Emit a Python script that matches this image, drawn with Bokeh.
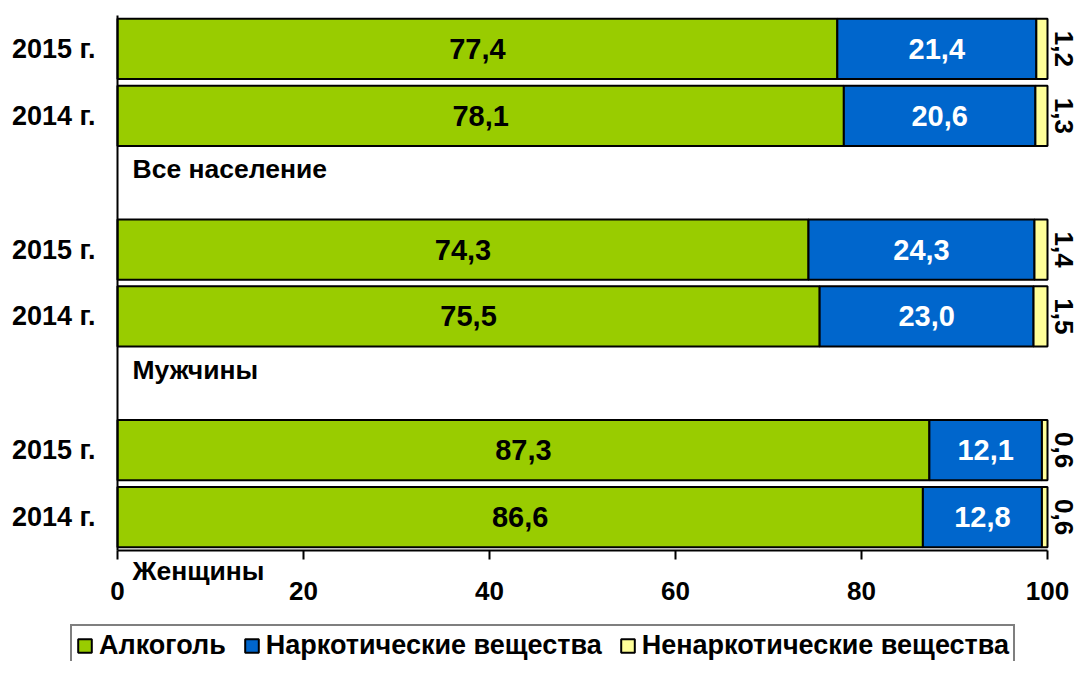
import math
from bokeh.plotting import figure
from bokeh.models import (ColumnDataSource, Range1d, FixedTicker, LabelSet,
                          Legend, LegendItem)
from bokeh.core.properties import value
from bokeh.embed import file_html
from bokeh.resources import INLINE

# ---- data ----
groups = ["Все население", "Мужчины", "Женщины"]
years = ["2015 г.", "2014 г."]
alcohol = [77.4, 78.1, 74.3, 75.5, 87.3, 86.6]
narcotic = [21.4, 20.6, 24.3, 23.0, 12.1, 12.8]
non_narcotic = [1.2, 1.3, 1.4, 1.5, 0.6, 0.6]
series_names = ["Алкоголь", "Наркотические вещества", "Ненаркотические вещества"]
x_ticks = [0, 20, 40, 60, 80, 100]

GREEN = "#99CC00"
BLUE = "#0066CC"
YELLOW = "#FFFF99"
FONT = "Liberation Sans"

W, H = 1075, 661
# frame covers the whole figure; axes are drawn at fixed locations
X0_PX, X100_PX = 117, 1047    # pixel of x=0 and x=100
Y0_PX, Y8_PX = 15, 550        # pixel of row 0 top and row 8 bottom
PX_X = (X100_PX - X0_PX) / 100.0
PX_Y = (Y8_PX - Y0_PX) / 8.0

def fmt(v):
    return f"{v:.1f}".replace(".", ",")

ys, ylabels = [], []
for g in range(len(groups)):
    for j in range(len(years)):
        ys.append(3 * g + j + 0.5)
        ylabels.append(years[j])

n_end = [a + n for a, n in zip(alcohol, narcotic)]
o_end = [a + n + o for a, n, o in zip(alcohol, narcotic, non_narcotic)]

src = ColumnDataSource(dict(
    y=ys,
    a0=[0] * len(ys), a1=alcohol,
    n0=alcohol, n1=n_end,
    o0=n_end, o1=o_end,
    amid=[a / 2 for a in alcohol],
    nmid=[s + n / 2 for s, n in zip(alcohol, narcotic)],
    atxt=[fmt(v) for v in alcohol],
    ntxt=[fmt(v) for v in narcotic],
    otxt=[fmt(v) for v in non_narcotic],
))

x_lo = -X0_PX / PX_X
x_hi = 100 + (W - X100_PX) / PX_X
y_top = -Y0_PX / PX_Y
y_bot = 8 + (H - Y8_PX) / PX_Y

p = figure(width=W, height=H, output_backend="svg", toolbar_location=None,
           x_range=Range1d(x_lo, x_hi), y_range=Range1d(y_bot, y_top),
           min_border=0)
p.outline_line_color = None
p.grid.visible = False
p.background_fill_color = "white"

BH = 0.9
r1 = p.hbar(y="y", left="a0", right="a1", height=BH, source=src,
            fill_color=GREEN, line_color="black", line_width=2)
r2 = p.hbar(y="y", left="n0", right="n1", height=BH, source=src,
            fill_color=BLUE, line_color="black", line_width=2)
r3 = p.hbar(y="y", left="o0", right="o1", height=BH, source=src,
            fill_color=YELLOW, line_color="black", line_width=2)

# value labels
p.add_layout(LabelSet(x="amid", y="y", text="atxt", source=src,
                      text_align="center", text_baseline="middle",
                      text_font=value(FONT), text_font_style="bold",
                      text_font_size="29px", text_color="black"))
p.add_layout(LabelSet(x="nmid", y="y", text="ntxt", source=src,
                      text_align="center", text_baseline="middle",
                      text_font=value(FONT), text_font_style="bold",
                      text_font_size="29px", text_color="white"))
p.add_layout(LabelSet(x="o1", y="y", text="otxt", source=src,
                      x_offset=16, angle=-math.pi / 2,
                      text_align="center", text_baseline="middle",
                      text_font=value(FONT), text_font_style="bold",
                      text_font_size="26px", text_color="black"))

# group labels
gsrc = ColumnDataSource(dict(
    x=[0] * len(groups),
    y=[3 * g + 1.5 + 0.8 for g in range(len(groups))],
    t=groups,
))
p.add_layout(LabelSet(x="x", y="y", text="t", source=gsrc, x_offset=15,
                      text_align="left", text_baseline="middle",
                      text_font=value(FONT), text_font_style="bold",
                      text_font_size="26.5px", text_color="black"))

# axes
xa = p.xaxis[0]
xa.fixed_location = 8
xa.bounds = (0, 100)
xa.ticker = FixedTicker(ticks=x_ticks)
xa.axis_line_width = 2
xa.major_tick_line_width = 2
xa.major_tick_out = 9
xa.major_tick_in = 0
xa.minor_tick_line_color = None
xa.major_label_text_font = FONT
xa.major_label_text_font_style = "bold"
xa.major_label_text_font_size = "26px"
xa.major_label_text_color = "black"
xa.major_label_standoff = 22

ya = p.yaxis[0]
ya.fixed_location = 0
ya.bounds = (0, 8)
ya.ticker = FixedTicker(ticks=ys)
ya.major_label_overrides = {y: l for y, l in zip(ys, ylabels)}
ya.axis_line_width = 2
ya.major_tick_line_color = None
ya.major_tick_out = 0
ya.major_tick_in = 0
ya.minor_tick_line_color = None
ya.major_label_text_font = FONT
ya.major_label_text_font_style = "bold"
ya.major_label_text_font_size = "27px"
ya.major_label_text_color = "black"
ya.major_label_standoff = 22

legend = Legend(items=[LegendItem(label=series_names[0], renderers=[r1]),
                       LegendItem(label=series_names[1], renderers=[r2]),
                       LegendItem(label=series_names[2], renderers=[r3])],
                orientation="horizontal", location=(70, -6),
                border_line_color="black", border_line_width=2,
                background_fill_alpha=1.0,
                label_text_font=FONT, label_text_font_style="bold",
                label_text_font_size="27px", label_text_color="black",
                glyph_width=17, glyph_height=17, label_standoff=6,
                spacing=17, padding=4, margin=0)
p.add_layout(legend, "center")

open("out.html", "w").write(file_html(p, INLINE))
